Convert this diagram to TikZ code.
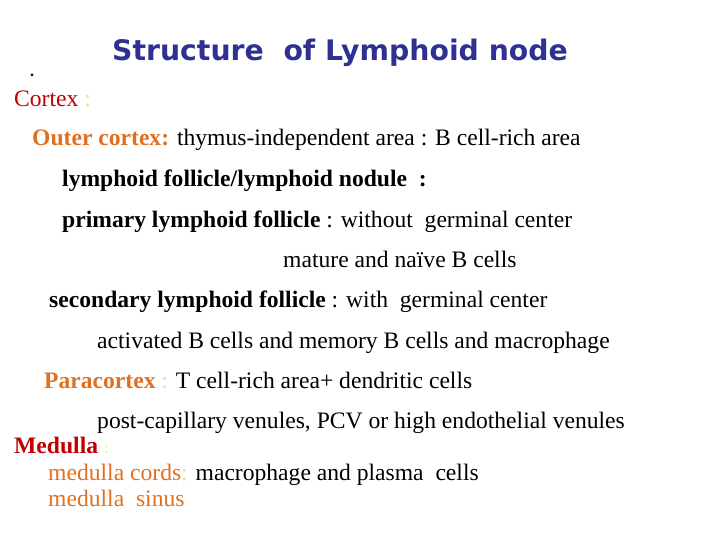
\documentclass[tikz,border=0pt]{standalone}
\usepackage{fontspec}
\setmainfont{Liberation Serif}
\newfontfamily\titlefont{DejaVu Sans}
\definecolor{ttl}{HTML}{2E3192}
\definecolor{dred}{HTML}{C00000}
\definecolor{org}{HTML}{E07020}
\definecolor{ylw}{HTML}{E6E08A}
\begin{document}
\begin{tikzpicture}[x=1pt,y=-1pt,
  txt/.style={anchor=base west,inner sep=0pt,font=\fontsize{23.6}{28}\selectfont}]
\useasboundingbox (0,0) rectangle (720,540);
\node[anchor=base west,inner sep=0pt,text=ttl,font=\titlefont\bfseries\fontsize{28.3}{32}\selectfont] (t) at (112,61) {Structure\ \ of Lymphoid node};
\fill (32,75) circle (1.5);
\node[txt] (c) at (14,107) {\textcolor{dred}{Cortex} \textcolor{ylw}{:}};
\node[txt] (oc) at (32,146) {\textcolor{org}{\bfseries Outer cortex:} thymus-independent area : B cell-rich area};
\node[txt] (lf) at (62,187) {\bfseries lymphoid follicle/lymphoid nodule\ \ :};
\node[txt] (pl) at (62,227) {\bfseries primary lymphoid follicle \mdseries: without\ \ germinal center};
\node[txt] (mn) at (283,267) {mature and naïve B cells};
\node[txt] (sl) at (49,307) {\bfseries secondary lymphoid follicle \mdseries: with\ \ germinal center};
\node[txt] (ab) at (97,348) {activated B cells and memory B cells and macrophage};
\node[txt] (pc) at (44,388) {\textcolor{org}{\bfseries Paracortex} \textcolor{ylw}{:} T cell-rich area+ dendritic cells};
\node[txt] (pv) at (97,428) {post-capillary venules, PCV or high endothelial venules};
\node[txt] (md) at (14,453) {\textcolor{dred}{\bfseries Medulla} \textcolor{ylw}{\fontsize{16}{18}\selectfont:}};
\node[txt] (mc) at (48,480) {\textcolor{org}{medulla cords\textcolor{ylw}{:}} macrophage and plasma\ \ cells};
\node[txt] (ms) at (48,506) {\textcolor{org}{medulla\ \ sinus}};
\end{tikzpicture}
\end{document}
